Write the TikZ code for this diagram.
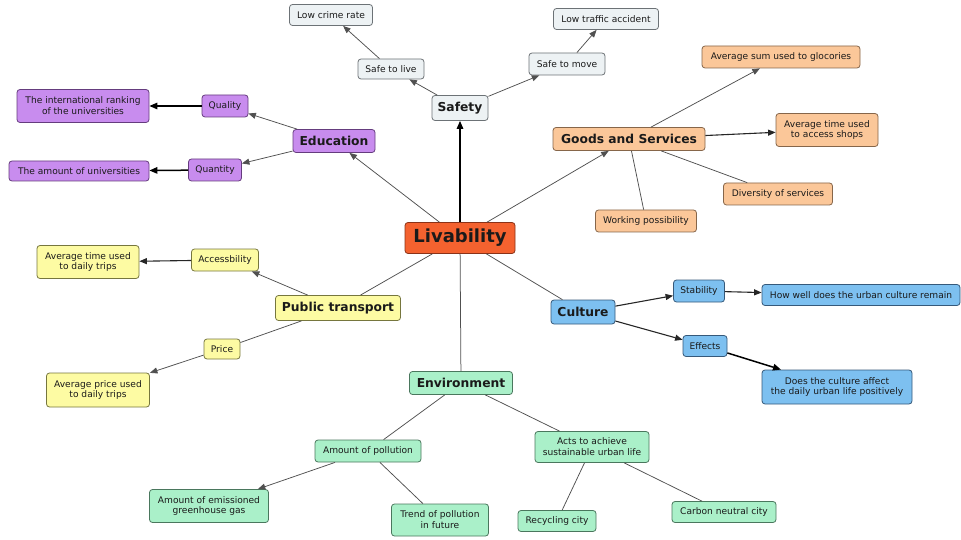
\documentclass[tikz,border=0pt]{standalone}
\usepackage{fontspec}
\setmainfont{DejaVu Sans}
\usetikzlibrary{arrows.meta}

% fills and borders of the concept groups
\definecolor{livF}{HTML}{F4622F}\definecolor{livD}{HTML}{8A3218}
\definecolor{safF}{HTML}{EDF2F4}\definecolor{safD}{HTML}{6C7276}
\definecolor{eduF}{HTML}{C88CEE}\definecolor{eduD}{HTML}{653C7E}
\definecolor{gsF}{HTML}{FBC799}\definecolor{gsD}{HTML}{86664A}
\definecolor{ptF}{HTML}{FDFBA3}\definecolor{ptD}{HTML}{76763E}
\definecolor{culF}{HTML}{7DC0F0}\definecolor{culD}{HTML}{36597A}
\definecolor{envF}{HTML}{AAF0C9}\definecolor{envD}{HTML}{4A775D}
\definecolor{linkc}{HTML}{505050}
\definecolor{ink}{HTML}{1A1A1A}

\begin{document}
\begin{tikzpicture}[x=1pt,y=-1pt,
  box/.style={draw, rounded corners=3pt, line width=0.8pt, inner sep=0pt,
    align=center, text=ink, font=\fontsize{9.1}{10.8}\selectfont},
  head/.style={box, font=\fontsize{12.3}{14}\selectfont\bfseries},
  sz/.style 2 args={minimum width=#1pt, minimum height=#2pt},
  gliv/.style={fill=livF, draw=livD},
  gsaf/.style={fill=safF, draw=safD},
  gedu/.style={fill=eduF, draw=eduD},
  ggs/.style={fill=gsF, draw=gsD},
  gpt/.style={fill=ptF, draw=ptD},
  gcul/.style={fill=culF, draw=culD},
  genv/.style={fill=envF, draw=envD},
  link/.style={draw=linkc, line width=0.75pt},
  arr/.style={link, -{Triangle[length=7.5pt,width=6pt]}},
  heavy/.style={draw=black, line width=1.5pt, -{Triangle[length=8pt,width=6.5pt]}},
  mid/.style={draw=black!85, line width=1.1pt, -{Triangle[length=7.5pt,width=6pt]}}
]
\useasboundingbox (0,0) rectangle (961,540);

% central concept
\node[box, gliv, sz={110}{31}, font=\fontsize{18}{20}\selectfont\bfseries] (liv) at (460,238) {Livability};

% safety
\node[head, gsaf, sz={56}{25}] (saf) at (460,108) {Safety};
\node[box, gsaf, sz={66}{20}] (stl) at (391,69) {Safe to live};
\node[box, gsaf, sz={83}{21}] (lcr) at (331,15) {Low crime rate};
\node[box, gsaf, sz={76}{22}] (stm) at (567,64) {Safe to move};
\node[box, gsaf, sz={105}{21}] (lta) at (606,19) {Low traffic accident};

% education
\node[head, gedu, sz={82}{23}] (edu) at (334,141) {Education};
\node[box, gedu, sz={46}{22}] (qual) at (225,106) {Quality};
\node[box, gedu, sz={132}{33}] (rank) at (83,106) {The international ranking\\of the universities};
\node[box, gedu, sz={53}{22}] (quan) at (215,170) {Quantity};
\node[box, gedu, sz={140}{20}] (amt) at (79,171) {The amount of universities};

% goods and services
\node[head, ggs, sz={152}{23}] (gs) at (629,139) {Goods and Services};
\node[box, ggs, sz={158}{22}] (sum) at (781,57) {Average sum used to glocories};
\node[box, ggs, sz={102}{33}] (tim) at (827,130) {Average time used\\to access shops};
\node[box, ggs, sz={109}{22}] (dvs) at (778,194) {Diversity of services};
\node[box, ggs, sz={101}{22}] (wrk) at (646,221) {Working possibility};

% public transport
\node[head, gpt, sz={125}{25}] (pt) at (338,308) {Public transport};
\node[box, gpt, sz={67}{22}] (acc) at (225,260) {Accessbility};
\node[box, gpt, sz={102}{33}] (adt) at (88,262) {Average time used\\to daily trips};
\node[box, gpt, sz={36}{20}] (prc) at (222,349) {Price};
\node[box, gpt, sz={103}{34}] (apt) at (98,390) {Average price used\\to daily trips};

% culture
\node[head, gcul, sz={64}{24}] (cul) at (583,312) {Culture};
\node[box, gcul, sz={51}{22}] (stab) at (699,291) {Stability};
\node[box, gcul, sz={198}{21}] (how) at (861,295) {How well does the urban culture remain};
\node[box, gcul, sz={44}{21}] (eff) at (705,346) {Effects};
\node[box, gcul, sz={150}{34}] (does) at (837,387) {Does the culture affect\\the daily urban life positively};

% environment
\node[head, genv, sz={103}{23}] (env) at (461,383) {Environment};
\node[box, genv, sz={106}{22}] (pol) at (368,451) {Amount of pollution};
\node[box, genv, sz={114}{31}] (acts) at (592,447) {Acts to achieve\\sustainable urban life};
\node[box, genv, sz={119}{33}] (ghg) at (209,506) {Amount of emissioned\\greenhouse gas};
\node[box, genv, sz={97}{32}] (trd) at (440,520) {Trend of pollution\\in future};
\node[box, genv, sz={78}{21}] (rec) at (557,521) {Recycling city};
\node[box, genv, sz={104}{21}] (carb) at (724,512) {Carbon neutral city};

% connectors
\draw[heavy] (liv) -- (saf);
\draw[arr] (saf) -- (stl);
\draw[arr] (stl) -- (lcr);
\draw[arr] (saf) -- (stm);
\draw[arr] (stm) -- (lta);

\draw[arr] (liv) -- (edu);
\draw[arr] (edu) -- (qual);
\draw[heavy] (qual) -- (rank);
\draw[arr] (edu) -- (quan);
\draw[heavy] (quan) -- (amt);

\draw[arr] (liv) -- (gs);
\draw[arr] (gs) -- (sum);
\draw[mid] (gs) -- (tim);
\draw[link] (gs) -- (dvs);
\draw[link] (gs) -- (wrk);

\draw[link] (liv) -- (pt);
\draw[arr] (pt) -- (acc);
\draw[mid] (acc) -- (adt);
\draw[link] (pt) -- (prc);
\draw[arr] (prc) -- (apt);

\draw[link] (liv) -- (cul);
\draw[mid] (cul) -- (stab);
\draw[mid] (stab) -- (how);
\draw[mid] (cul) -- (eff);
\draw[heavy] (eff) -- (does);

\draw[link] (liv) -- (env);
\draw[link] (env) -- (pol);
\draw[link] (env) -- (acts);
\draw[arr] (pol) -- (ghg);
\draw[link] (pol) -- (trd);
\draw[link] (acts) -- (rec);
\draw[link] (acts) -- (carb);
\end{tikzpicture}
\end{document}
